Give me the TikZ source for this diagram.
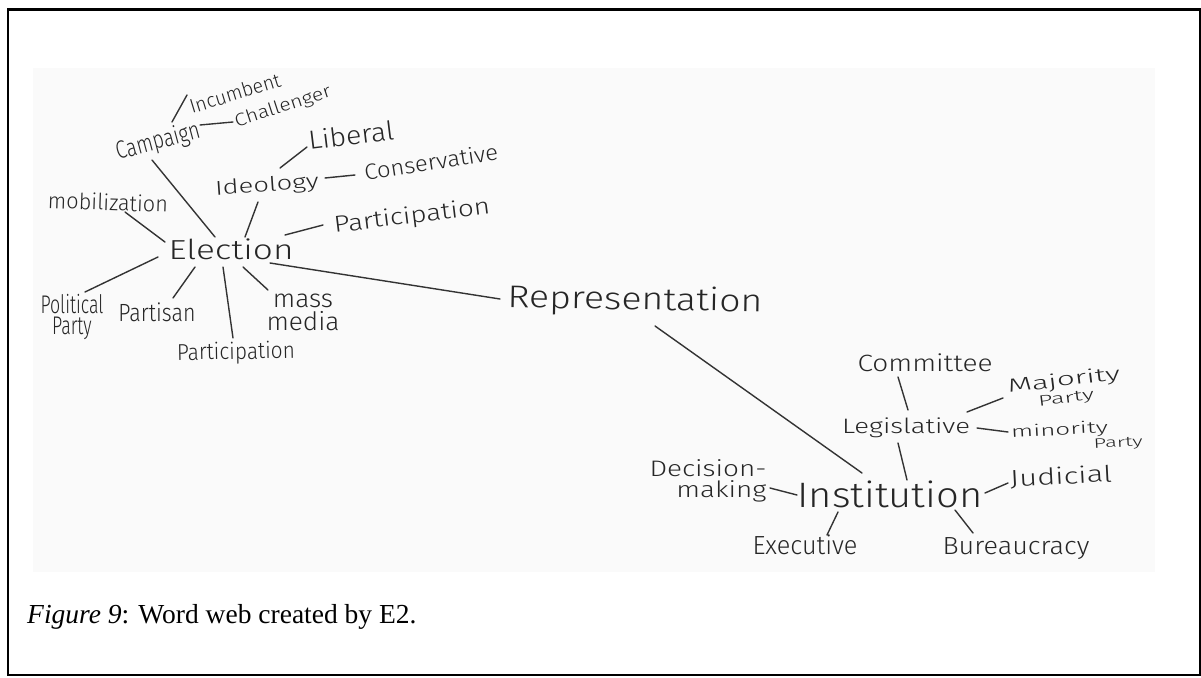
\documentclass[tikz,border=0pt]{standalone}
\usepackage{fontspec}
\usepackage{graphicx}
\setmainfont{Liberation Serif}
\newfontfamily\handfont{Fira Sans}[UprightFont={* Light}]
% word set in the hand font, stretched to a given width and total height
\newcommand{\hw}[3]{\resizebox*{#1pt}{#2pt}{\handfont\fontsize{20}{24}\selectfont #3}}

\begin{document}
\begin{tikzpicture}[x=1pt,y=-1pt,
  word/.style={inner sep=0pt, text=black!85},
  link/.style={draw=black!80, line width=1.4pt, line cap=round}]
\useasboundingbox (0,0) rectangle (1201,677);
% scanned sheet and frame
\fill[black!2] (33,68) rectangle (1155,572);
\draw[line width=2.2pt] (8,9.5) rectangle (1200.5,675);

% election cluster
\node[word, rotate=17] (inc) at (235,93) {\hw{94}{15}{Incumbent}};
\node[word, rotate=18] (chal) at (283,107) {\hw{100}{17}{Challenger}};
\node[word, rotate=15] (camp) at (158,142) {\hw{86}{24}{Campaign}};
\node[word, rotate=7] (lib) at (351,135) {\hw{86}{20}{Liberal}};
\node[word, rotate=4] (ideo) at (267,186) {\hw{104}{19}{Ideology}};
\node[word, rotate=9] (cons) at (431,162) {\hw{135}{17}{Conservative}};
\node[word, rotate=-2] (mob) at (108,202) {\hw{120}{17}{mobilization}};
\node[word, rotate=7] (partR) at (412,217) {\hw{157}{22}{Participation}};
\node[word] (elec) at (231,249) {\hw{125}{21}{Election}};
\node[word] (polp) at (72,317) {\hw{63}{46}{\shortstack{Political\\Party}}};
\node[word] (partisan) at (157,312) {\hw{77}{19}{Partisan}};
\node[word, rotate=1] (partB) at (236,353) {\hw{118}{22}{Participation}};
\node[word] (mass) at (303,312) {\hw{73}{37}{\shortstack{mass\\media}}};
\node[word, rotate=-1] (rep) at (635,301) {\hw{255}{30}{Representation}};

% institution cluster
\node[word] (comm) at (925,363) {\hw{135}{18}{Committee}};
\node[word, rotate=7] (maj) at (1065,389) {\hw{113}{34}{\shortstack{Majority\\{\fontsize{16}{16}\selectfont Party}}}};
\node[word] (leg) at (906,428) {\hw{128}{20}{Legislative}};
\node[word, rotate=3] (mino) at (1077,437) {\hw{131}{30}{\shortstack[l]{minority\\\hspace*{63pt}{\fontsize{17}{17}\selectfont Party}}}};
\node[word] (dec) at (708,481) {\hw{117}{42}{\shortstack[r]{Decision-\\making}}};
\node[word] (inst) at (890,494) {\hw{185}{27}{Institution}};
\node[word, rotate=3] (jud) at (1061,477) {\hw{102}{20}{Judicial}};
\node[word] (exe) at (805,545) {\hw{105}{20}{Executive}};
\node[word] (bur) at (1016,549) {\hw{147}{22}{Bureaucracy}};

% connectors
\draw[link] ([shift={(14,-20)}]camp.center) -- ([shift={(-48,2)}]inc.center);
\draw[link] ([shift={(42,-17)}]camp.center) -- ([shift={(-50,15)}]chal.center);
\draw[link] ([shift={(-6,18)}]camp.center) -- ([shift={(-16,-12)}]elec.center);
\draw[link] ([shift={(13,-18)}]ideo.center) -- ([shift={(-44,12)}]lib.center);
\draw[link] ([shift={(58,-8)}]ideo.center) -- ([shift={(-76,13)}]cons.center);
\draw[link] ([shift={(-9,16)}]ideo.center) -- ([shift={(14,-12)}]elec.center);
\draw[link] ([shift={(17,10)}]mob.center) -- ([shift={(-66,-7)}]elec.center);
\draw[link] ([shift={(54,-14)}]elec.center) -- ([shift={(-89,8)}]partR.center);
\draw[link] ([shift={(39,14)}]elec.center) -- ([shift={(-135,-2)}]rep.center);
\draw[link] ([shift={(-73,8)}]elec.center) -- ([shift={(13,-25)}]polp.center);
\draw[link] ([shift={(-36,18)}]elec.center) -- ([shift={(16,-14)}]partisan.center);
\draw[link] ([shift={(-8,18)}]elec.center) -- ([shift={(-3,-15)}]partB.center);
\draw[link] ([shift={(12,18)}]elec.center) -- ([shift={(-35,-22)}]mass.center);
\draw[link] ([shift={(20,25)}]rep.center) -- ([shift={(-28,-21)}]inst.center);
\draw[link] ([shift={(-27,14)}]comm.center) -- ([shift={(2,-18)}]leg.center);
\draw[link] ([shift={(61,-16)}]leg.center) -- ([shift={(-62,9)}]maj.center);
\draw[link] ([shift={(71,0)}]leg.center) -- ([shift={(-69,-5)}]mino.center);
\draw[link] ([shift={(-8,15)}]leg.center) -- ([shift={(17,-14)}]inst.center);
\draw[link] ([shift={(62,7)}]dec.center) -- ([shift={(-93,1)}]inst.center);
\draw[link] ([shift={(95,-1)}]inst.center) -- ([shift={(-53,6)}]jud.center);
\draw[link] ([shift={(-52,18)}]inst.center) -- ([shift={(22,-10)}]exe.center);
\draw[link] ([shift={(65,16)}]inst.center) -- ([shift={(-43,-16)}]bur.center);

% caption
\node[anchor=base west, inner sep=0pt, font=\fontsize{27.5}{33}\selectfont] (caption) at (27,623)
  {\textit{Figure 9}: Word web created by E2.};
\end{tikzpicture}
\end{document}
